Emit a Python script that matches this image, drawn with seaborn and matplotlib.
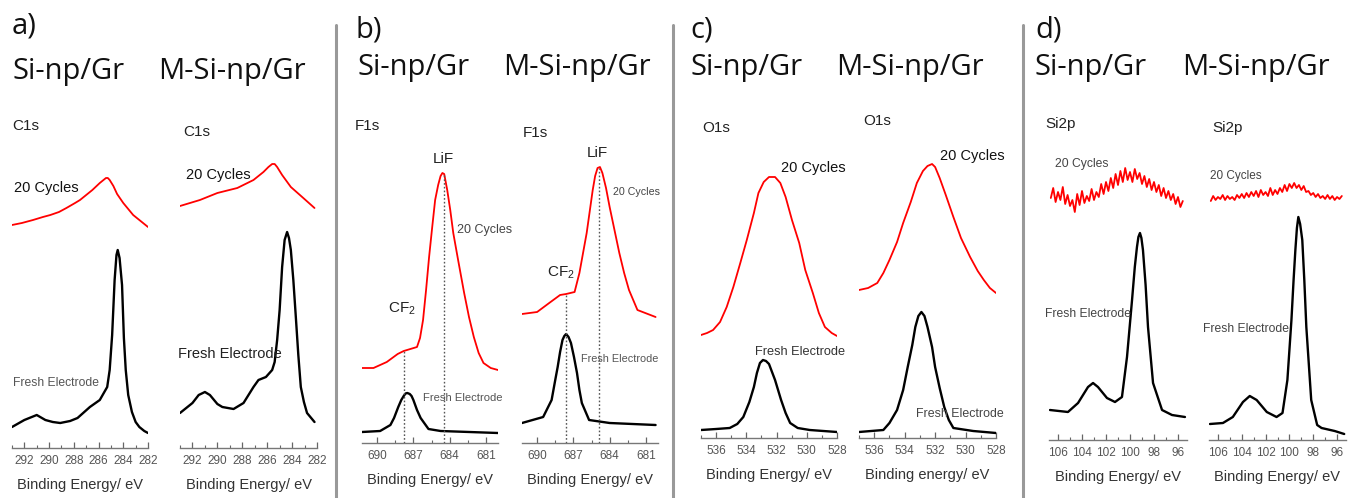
import numpy as np
import matplotlib
matplotlib.use("Agg")
import matplotlib.pyplot as plt
import seaborn as sns
from matplotlib.lines import Line2D
from matplotlib.ticker import MultipleLocator

W, H = 1355, 498
sns.set_theme(style="white")
plt.rcParams['font.family'] = ['Liberation Sans', 'DejaVu Sans']
plt.rcParams['mathtext.default'] = 'regular'

# ---------------- data (binding energy eV, intensity a.u.) ----------------
A1_BLACK_E = [293.0, 292.0, 291.0, 290.3, 289.7, 289.1, 288.3, 287.7, 286.7, 285.9, 285.3, 285.1, 284.9, 284.7,
              284.55, 284.45, 284.3, 284.1, 283.95, 283.8, 283.6, 283.3, 283.0, 282.7, 282.3, 282.0]
A1_BLACK_I = [23, 30, 35, 30, 28, 27, 29, 32, 43, 50, 63, 80, 115, 170,
              195, 200, 192, 165, 112, 80, 55, 38, 28, 23, 19, 17]
A1_RED_E = [293.0, 292.2, 291.3, 290.5, 289.9, 289.2, 288.6, 287.9, 287.5, 287.0, 286.5, 285.9, 285.6, 285.4,
            285.25, 285.1, 284.8, 284.5, 284.0, 283.6, 283.2, 282.6, 282.0]
A1_RED_I = [225, 227, 230, 233, 235, 238, 242, 247, 250, 255, 260, 267, 270, 272,
            272, 270, 264, 256, 247, 241, 235, 229, 223]

A2_BLACK_E = [293.0, 292.0, 291.5, 291.0, 290.6, 290.0, 289.6, 288.7, 287.9, 287.1, 286.7, 286.1, 285.6, 285.4,
              285.2, 285.0, 284.8, 284.6, 284.4, 284.25, 284.1, 283.9, 283.7, 283.5, 283.3, 283.05, 282.8, 282.2]
A2_BLACK_I = [37, 47, 55, 58, 55, 46, 43, 41, 47, 63, 70, 73, 80, 88,
              110, 140, 183, 210, 218, 212, 200, 170, 133, 95, 63, 48, 37, 28]
A2_RED_E = [293.0, 291.4, 290.0, 288.4, 287.1, 286.3, 285.9, 285.6, 285.4, 285.2, 284.8, 284.1, 283.1, 282.2]
A2_RED_I = [244, 250, 257, 262, 270, 278, 283, 286, 286, 283, 275, 263, 252, 242]

B1_RED_E = [691.3, 690.3, 689.2, 688.3, 687.8, 686.7, 686.45, 686.2, 685.95, 685.7, 685.45, 685.2, 684.95,
            684.75, 684.6, 684.45, 684.2, 683.95, 683.7, 683.3, 682.8, 682.4, 682.0, 681.6, 681.2, 680.6, 680.0]
B1_RED_I = [82, 82, 88, 96, 99, 103, 112, 130, 160, 193, 222, 250, 265,
            274, 277, 276, 260, 240, 217, 190, 157, 133, 113, 97, 87, 82, 80]
B1_BLACK_E = [691.25, 689.75, 688.9, 688.6, 688.25, 688.0, 687.8, 687.65, 687.5, 687.3, 687.15, 687.0, 686.7,
              686.55, 686.4, 685.75, 684.75, 680.0]
B1_BLACK_I = [18, 19, 25, 32, 43, 50, 54, 56.5, 57, 56, 54, 50, 40, 36, 32, 21, 19, 17]

B2_RED_E = [691.25, 690.0, 689.0, 688.1, 687.6, 686.9, 686.5, 685.9, 685.4, 685.2, 685.0, 684.8, 684.6, 684.3,
            684.0, 683.6, 683.2, 682.8, 682.4, 681.7, 680.2]
B2_RED_I = [136, 138, 147, 155, 156, 158, 177, 217, 260, 274, 282, 283, 277, 262,
            243, 220, 197, 177, 160, 140, 133]
B2_BLACK_E = [691.25, 689.5, 688.8, 688.5, 688.3, 688.1, 687.9, 687.75, 687.6, 687.4, 687.2, 686.95, 686.7,
              686.5, 686.3, 685.7, 684.0, 680.2]
B2_BLACK_I = [27, 33, 50, 70, 83, 98, 110, 114, 116, 113, 107, 93, 77, 60, 47, 30, 27, 25]

B_LIF_E = [684.5, 684.9]
B_CF2_E = [687.8, 687.6]

C1_RED_E = [537.0, 536.6, 536.2, 535.74, 535.3, 534.86, 534.4, 533.97, 533.5, 533.2, 532.85, 532.5, 532.1,
            531.75, 531.4, 530.98, 530.5, 530.1, 529.6, 529.2, 528.8, 528.35, 528.0]
C1_RED_I = [115, 117, 120, 128, 143, 163, 187, 210, 237, 257, 268, 273, 273,
            267, 253, 230, 207, 180, 157, 137, 123, 117, 114]
C1_BLACK_E = [537.0, 536.0, 535.1, 534.6, 534.2, 533.8, 533.5, 533.3, 533.1, 532.9, 532.7, 532.5, 532.3,
              532.1, 531.9, 531.7, 531.4, 531.1, 530.6, 529.8, 528.0]
C1_BLACK_I = [20, 21, 22, 26, 33, 48, 63, 77, 87, 90, 89, 86, 78, 70, 60, 50, 37, 27, 22, 20, 18]

C2_RED_E = [537.0, 536.4, 535.8, 535.4, 535.0, 534.5, 534.1, 533.6, 533.2, 532.8, 532.5, 532.2, 532.0,
            531.7, 531.3, 530.8, 530.3, 529.7, 529.2, 528.8, 528.4, 528.0]
C2_RED_I = [160, 162, 167, 177, 190, 208, 227, 248, 267, 279, 284, 286, 283,
            272, 255, 233, 212, 193, 179, 170, 162, 157]
C2_BLACK_E = [537.0, 535.4, 535.0, 534.5, 534.1, 533.8, 533.5, 533.3, 533.1, 532.9, 532.7, 532.5, 532.2,
              532.0, 531.7, 531.4, 531.1, 530.8, 529.5, 528.0]
C2_BLACK_I = [18, 20, 27, 40, 60, 83, 105, 123, 134, 138, 134, 123, 103, 83, 62, 43, 30, 22, 19, 17]

D1_BLACK_E = [106.67, 105.17, 104.33, 103.5, 103.08, 102.67, 101.92, 101.25, 100.67, 100.25, 99.83, 99.6,
              99.42, 99.3, 99.17, 99.05, 98.92, 98.7, 98.5, 98.08, 97.33, 96.5, 95.42]
D1_BLACK_I = [40, 38, 47, 63, 67, 63, 52, 48, 53, 93, 150, 183, 203, 213, 217, 212, 200, 165, 123, 67, 40, 35, 33]
D2_BLACK_E = [106.67, 105.58, 104.75, 103.9, 103.33, 102.75, 101.9, 101.08, 100.58, 100.17, 99.83, 99.65,
              99.5, 99.37, 99.25, 99.1, 98.92, 98.75, 98.58, 98.17, 97.67, 97.3, 96.2, 95.4]
D2_BLACK_I = [26, 27, 33, 48, 54, 50, 38, 33, 37, 70, 130, 170, 200, 222, 233, 226, 210, 170, 123, 50, 25,
              22, 19, 16]

D_RED_E = [106.6, 106.4, 106.2, 106.0, 105.8, 105.6, 105.4, 105.2, 105.0, 104.8, 104.6, 104.4, 104.2, 104.0,
           103.8, 103.6, 103.4, 103.2, 103.0, 102.8, 102.6, 102.4, 102.2, 102.0, 101.8, 101.6, 101.4, 101.2,
           101.0, 100.8, 100.6, 100.4, 100.2, 100.0, 99.8, 99.6, 99.4, 99.2, 99.0, 98.8, 98.6, 98.4,
           98.2, 98.0, 97.8, 97.6, 97.4, 97.2, 97.0, 96.8, 96.6, 96.4, 96.2, 96.0, 95.8, 95.6]
D1_RED_I = [252, 262, 248, 258, 250, 263, 246, 255, 244, 250, 238, 256, 245, 259,
            247, 254, 249, 261, 250, 258, 253, 266, 256, 268, 259, 272, 262, 276,
            265, 279, 268, 282, 270, 278, 268, 281, 271, 277, 266, 274, 263, 271,
            260, 268, 258, 265, 254, 262, 252, 259, 250, 256, 246, 253, 243, 249]
D2_RED_I = [249, 254, 250, 253, 251, 255, 250, 254, 251, 253, 250, 255, 252, 256,
            252, 257, 253, 258, 254, 259, 253, 260, 255, 258, 254, 262, 255, 260,
            256, 262, 258, 265, 259, 266, 262, 267, 262, 265, 260, 264, 258, 259,
            255, 257, 253, 256, 252, 254, 251, 255, 251, 254, 250, 253, 251, 254]

PANEL_LETTERS = ["a)", "b)", "c)", "d)"]
SAMPLES = ["Si-np/Gr", "M-Si-np/Gr"]
XLABELS = ["Binding Energy/ eV"] * 5 + ["Binding energy/ eV"] + ["Binding Energy/ eV"] * 2

# ---------------- layout ----------------
fig = plt.figure(figsize=(W / 100, H / 100), dpi=100)
TOP = 95
REF = 450  # intensity reference line


def make_axes(left, right, axis_y, xlim, major, minor, xlabel):
    ax = fig.add_axes([left / W, 1 - axis_y / H, (right - left) / W, (axis_y - TOP) / H])
    ax.set_xlim(*xlim)
    ax.set_ylim(REF - axis_y, REF - TOP)
    ax.set_facecolor('none')
    for s in ['top', 'right', 'left']:
        ax.spines[s].set_visible(False)
    ax.spines['bottom'].set_color('#777777')
    ax.spines['bottom'].set_linewidth(1.0)
    ax.set_yticks([])
    ax.xaxis.set_major_locator(MultipleLocator(major))
    ax.xaxis.set_minor_locator(MultipleLocator(minor))
    ax.tick_params(axis='x', which='major', direction='in', length=4, width=0.9, color='#666666',
                   labelsize=8.5, labelcolor='#555555', pad=5, bottom=True)
    ax.tick_params(axis='x', which='minor', direction='in', length=2.5, width=0.8, color='#666666', bottom=True)
    ax.set_xlabel(xlabel, fontsize=10.5, color='#333333', labelpad=8)
    ax.grid(False)
    return ax


specs = [
    (12, 148, 448, (293, 282), 2, 1),
    (180, 317, 448, (293, 282), 2, 1),
    (362, 498, 443, (691.25, 680.0), 3, 1.5),
    (522, 658, 443, (691.25, 680.0), 3, 1.5),
    (701, 837, 438, (537, 528), 2, 1),
    (859, 996, 438, (537, 528), 2, 1),
    (1049, 1187, 440, (106.75, 95.25), 2, 1),
    (1209, 1346, 440, (106.75, 95.25), 2, 1),
]
axes = [make_axes(*s, XLABELS[i]) for i, s in enumerate(specs)]

curves = [
    (A1_RED_E, A1_RED_I, A1_BLACK_E, A1_BLACK_I),
    (A2_RED_E, A2_RED_I, A2_BLACK_E, A2_BLACK_I),
    (B1_RED_E, B1_RED_I, B1_BLACK_E, B1_BLACK_I),
    (B2_RED_E, B2_RED_I, B2_BLACK_E, B2_BLACK_I),
    (C1_RED_E, C1_RED_I, C1_BLACK_E, C1_BLACK_I),
    (C2_RED_E, C2_RED_I, C2_BLACK_E, C2_BLACK_I),
    (D_RED_E, D1_RED_I, D1_BLACK_E, D1_BLACK_I),
    (D_RED_E, D2_RED_I, D2_BLACK_E, D2_BLACK_I),
]
for ax, (re, ri, be, bi) in zip(axes, curves):
    sns.lineplot(x=re, y=ri, ax=ax, color='#ff0000', lw=1.3, sort=False, estimator=None)
    sns.lineplot(x=be, y=bi, ax=ax, color='#000000', lw=1.7, sort=False, estimator=None)

# dotted reference lines in F1s panels
for k, ax in enumerate(axes[2:4]):
    re, ri = curves[2 + k][0], curves[2 + k][1]
    y0 = ax.get_ylim()[0]
    for e in (B_LIF_E[k], B_CF2_E[k]):
        ytop = np.interp(e, re[::-1], ri[::-1])
        ax.vlines(e, y0, ytop, colors='#555555', linestyles=(0, (1.2, 1.5)), lw=1.0)


def ftext(px, py, s, size, color='#222222', ha='left', family=None, **kw):
    kws = dict(fontsize=size, color=color, ha=ha, va='baseline')
    if family:
        kws['family'] = family
    kws.update(kw)
    fig.text(px / W, 1 - py / H, s, **kws)


# headers
HEAD_FONT = ['Open Sans', 'DejaVu Sans']
letter_pos = [(12, 33), (355, 37), (690, 37), (1035, 37)]
sample_pos = [((12, 79), (158, 79)), ((358, 75), (503, 75)), ((690, 75), (836, 75)), ((1034, 75), (1182, 75))]
for k in range(4):
    ftext(*letter_pos[k], PANEL_LETTERS[k], 21, '#111111', family=HEAD_FONT)
    for j in range(2):
        ftext(*sample_pos[k][j], SAMPLES[j], 21, '#111111', family=HEAD_FONT)

# annotations
ann = [
    (12, 130, "C1s", 11, '#222222'), (14, 192, "20 Cycles", 10.5, '#111111'), (13, 386, "Fresh Electrode", 8.7, '#555555'),
    (183, 136, "C1s", 11, '#222222'), (186, 179, "20 Cycles", 10.5, '#111111'), (178, 358, "Fresh Electrode", 10.5, '#222222'),
    (355, 130, "F1s", 11, '#222222'), (457, 233, "20 Cycles", 9, '#444444'), (388, 313, "CF$_{\\mathregular{2}}$", 11, '#222222'),
    (423, 401, "Fresh Electrode", 8.1, '#555555'),
    (523, 137, "F1s", 11, '#222222'), (613, 195, "20 Cycles", 7.7, '#444444'), (547, 277, "CF$_{\\mathregular{2}}$", 11, '#222222'),
    (581, 362, "Fresh Electrode", 7.8, '#555555'),
    (702, 132, "O1s", 11, '#222222'), (781, 172, "20 Cycles", 10.5, '#111111'), (755, 355, "Fresh Electrode", 9.2, '#333333'),
    (863, 125, "O1s", 11, '#222222'), (940, 160, "20 Cycles", 10.5, '#111111'), (916, 417, "Fresh Electrode", 8.9, '#444444'),
    (1045, 128, "Si2p", 11, '#222222'), (1055, 167, "20 Cycles", 8.7, '#444444'), (1045, 317, "Fresh Electrode", 8.7, '#444444'),
    (1212, 132, "Si2p", 11, '#222222'), (1210, 179, "20 Cycles", 8.5, '#444444'), (1203, 332, "Fresh Electrode", 8.7, '#444444'),
]
for px, py, s, size, col in ann:
    ftext(px, py, s, size, col)
ftext(443, 163, "LiF", 11, '#222222', ha='center')
ftext(597, 157, "LiF", 11, '#222222', ha='center')

# separators
for xs in (336, 673, 1023):
    fig.add_artist(Line2D([xs / W, xs / W], [0, 1 - 25 / H], transform=fig.transFigure,
                          color='#999999', lw=2.2))

fig.savefig("out.png", dpi=100)
